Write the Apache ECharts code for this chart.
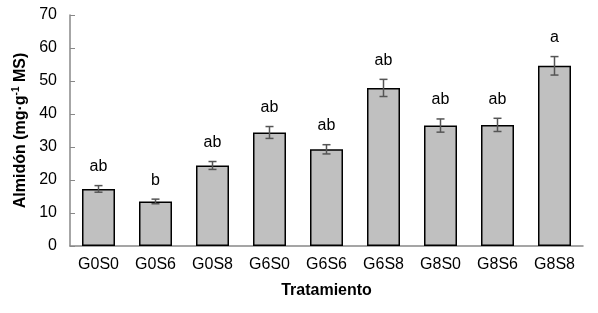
<!DOCTYPE html>
<html>
<head>
<meta charset="utf-8">
<script src="https://cdn.jsdelivr.net/npm/echarts@6/dist/echarts.min.js"></script>
<style>
html, body { margin: 0; padding: 0; background: #fff; }
#main { width: 598px; height: 313px; }
</style>
</head>
<body>
<div id="main"></div>
<script>
// datos
var tratamientos = ["G0S0", "G0S6", "G0S8", "G6S0", "G6S6", "G6S8", "G8S0", "G8S6", "G8S8"];
var almidon = [17.3, 13.5, 24.4, 34.4, 29.3, 47.9, 36.5, 36.7, 54.6];
var errores = [1.0, 0.7, 1.2, 1.8, 1.4, 2.6, 2.0, 2.0, 2.8];
var letras = ["ab", "b", "ab", "ab", "ab", "ab", "ab", "ab", "a"];

var fuente = "Liberation Sans, Arial, sans-serif";

var chart = echarts.init(document.getElementById("main"));

var errData = [];
for (var i = 0; i < tratamientos.length; i++) {
    errData.push([i, almidon[i] - errores[i], almidon[i] + errores[i]]);
}

var option = {
    animation: false,
    grid: {
        left: 70,
        right: 15,
        top: 15,
        bottom: 67
    },
    xAxis: {
        type: "category",
        data: tratamientos,
        name: "Tratamiento",
        nameLocation: "middle",
        nameGap: 37,
        nameTextStyle: { fontFamily: fuente, fontSize: 16, fontWeight: "bold", color: "#000" },
        axisLine: { lineStyle: { color: "#888", width: 1.5 } },
        axisTick: { inside: true, length: 5, lineStyle: { color: "#888" } },
        axisLabel: { fontFamily: fuente, fontSize: 16, color: "#000", margin: 11 }
    },
    yAxis: {
        type: "value",
        min: 0,
        max: 70,
        interval: 10,
        name: "{a|Almidón (mg·g}{s|-1}{a| MS)}",
        nameLocation: "middle",
        nameGap: 40,
        nameTextStyle: {
            rich: {
                a: { fontFamily: fuente, fontSize: 16, fontWeight: "bold", color: "#000", lineHeight: 19 },
                s: { fontFamily: fuente, fontSize: 10, fontWeight: "bold", color: "#000", verticalAlign: "top", lineHeight: 19 }
            }
        },
        splitLine: { show: false },
        axisLine: { show: true, lineStyle: { color: "#888", width: 1.5 } },
        axisTick: { show: true, inside: true, length: 5, lineStyle: { color: "#888" } },
        axisLabel: { fontFamily: fuente, fontSize: 16, color: "#000", margin: 13 }
    },
    series: [
        {
            type: "bar",
            data: almidon,
            barWidth: 33,
            itemStyle: { color: "#c0c0c0", borderColor: "#000", borderWidth: 1.5 }
        },
        {
            type: "custom",
            data: errData,
            z: 10,
            renderItem: function(params, api) {
                var lo = api.coord([api.value(0), api.value(1)]);
                var hi = api.coord([api.value(0), api.value(2)]);
                var cap = 4;
                var st = { stroke: "#555", lineWidth: 1.5 };
                return {
                    type: "group",
                    children: [
                        { type: "line", shape: { x1: lo[0], y1: lo[1], x2: hi[0], y2: hi[1] }, style: st },
                        { type: "line", shape: { x1: lo[0] - cap, y1: lo[1], x2: lo[0] + cap, y2: lo[1] }, style: st },
                        { type: "line", shape: { x1: hi[0] - cap, y1: hi[1], x2: hi[0] + cap, y2: hi[1] }, style: st },
                        {
                            type: "text",
                            style: {
                                text: letras[params.dataIndex],
                                x: hi[0],
                                y: hi[1] - 11,
                                align: "center",
                                verticalAlign: "bottom",
                                font: "16px " + fuente,
                                fill: "#000"
                            }
                        }
                    ]
                };
            }
        }
    ]
};

chart.setOption(option);
</script>
</body>
</html>
